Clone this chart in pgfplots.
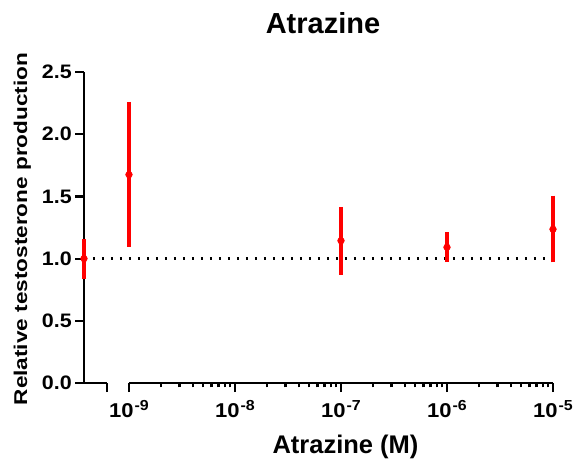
\documentclass[border=0pt]{standalone}
\usepackage{fontspec}
\setmainfont{Liberation Sans}
\newfontfamily\tickfont[FakeStretch=1.1]{Liberation Sans}
\newfontfamily\labfont[FakeStretch=1.22]{Liberation Sans}
\usepackage{pgfplots}
\pgfplotsset{compat=1.18}
\usepackage{pgfplotstable}
\definecolor{ered}{RGB}{255,0,0}
\newcommand{\pw}[1]{10\hspace{1pt}\raisebox{6.5pt}{\fontsize{14.5}{15}\selectfont -#1}}

\pgfplotstableread{
x y ep em
3.762e-10 1.000 0.128 0.138
1e-9 1.675 0.555 0.548
1e-7 1.144 0.242 0.244
1e-6 1.091 0.090 0.090
1e-5 1.236 0.240 0.236
}\datatable

\begin{document}
\begin{tikzpicture}
\useasboundingbox (0,0) rectangle (579pt,461pt);
\pgfplotsset{common/.style={scale only axis, height=311pt, ymin=0, ymax=2.5,
  tick align=outside, major tick length=9pt, minor tick length=4.5pt,
  every tick/.style={black, line width=2.2pt},
  axis line style={line width=2.5pt, black}}}
\begin{axis}[common, at={(84pt,78pt)}, anchor=south west, width=23pt,
  xmin=0, xmax=1, axis lines*=left, xtick={1}, xticklabels={},
  ytick={0,0.5,1,1.5,2,2.5}, yticklabels={0.0,0.5,1.0,1.5,2.0,2.5},
  yticklabel style={font=\tickfont\bfseries\fontsize{19.5}{20}\selectfont, inner sep=3pt}]
\end{axis}
\begin{axis}[common, at={(129pt,78pt)}, anchor=south west, width=424pt,
  xmode=log, xmin=1e-9, xmax=1e-5, axis x line*=bottom, axis y line=none, clip=false,
  xtick={1e-9,1e-8,1e-7,1e-6,1e-5},
  xticklabels={\pw{9},\pw{8},\pw{7},\pw{6},\pw{5}},
  xticklabel style={font=\tickfont\bfseries\fontsize{20}{21}\selectfont, anchor=base, yshift=-25pt}]
\addplot[black, line width=2.5pt, dash pattern=on 2.5pt off 6.5pt] coordinates {(3.762e-10,1) (1e-5,1)};
\addplot[ered, only marks, mark=*, mark size=3.4pt, mark options={solid, fill=ered},
  error bars/.cd, y dir=both, y explicit,
  error bar style={line width=4pt, ered},
  error mark options={mark size=3.7pt, line width=4.5pt, ered}]
  table[x=x, y=y, y error plus=ep, y error minus=em]{\datatable};
\end{axis}
\node[anchor=base, font=\bfseries\fontsize{29}{30}\selectfont] at (323pt,427pt) {Atrazine};
\node[anchor=base, font=\bfseries\fontsize{25.5}{26}\selectfont] at (345.5pt,7pt) {Atrazine (M)};
\node[anchor=base, rotate=90, font=\labfont\bfseries\fontsize{18.5}{19}\selectfont] at (27pt,232pt) {Relative testosterone production};
\end{tikzpicture}
\end{document}
